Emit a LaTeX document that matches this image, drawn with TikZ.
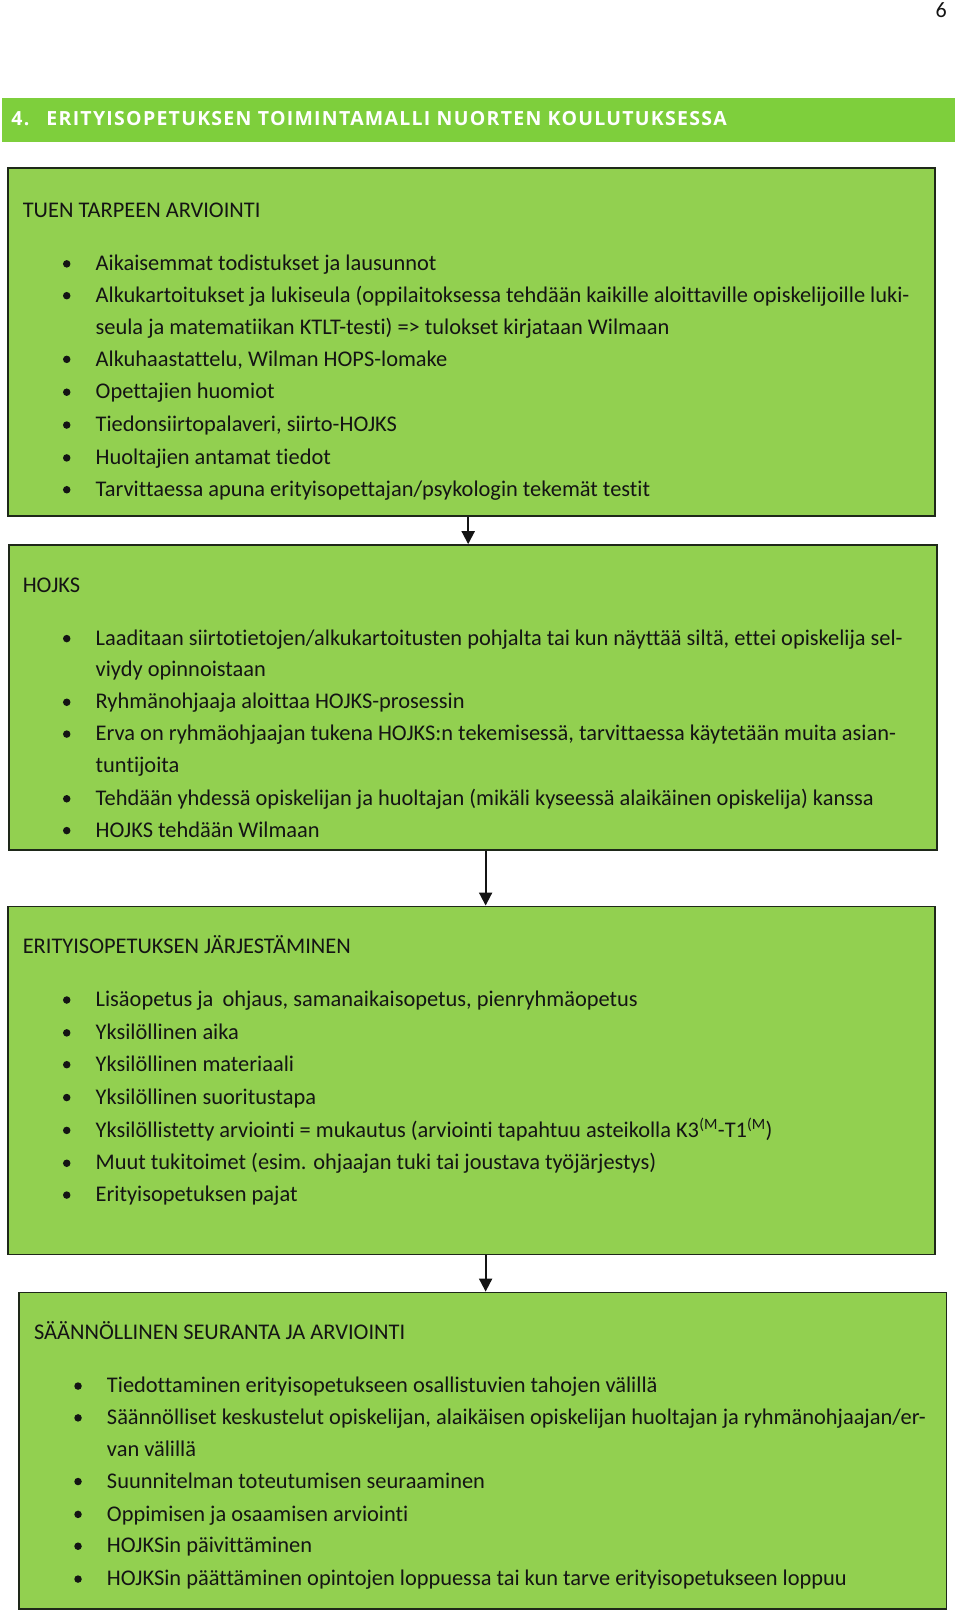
\documentclass[tikz,border=0pt]{standalone}
\usepackage{fontspec}
\setmainfont{Carlito}[Ligatures=NoCommon]
\newfontfamily\headfont{Open Sans}[LetterSpace=6.5]
\usetikzlibrary{arrows.meta}
\definecolor{boxgreen}{RGB}{146,208,80}
\definecolor{bargreen}{RGB}{126,207,60}
\definecolor{edge}{RGB}{30,40,25}
\definecolor{ink}{RGB}{20,20,20}
\def\sc{1.0267}
\tikzset{
  box/.style={draw=edge, line width=1.7pt, fill=boxgreen, inner sep=0pt, anchor=north west},
  txt/.style={anchor=base west, inner sep=0pt, text=ink, font=\fontsize{22.4}{26}\selectfont},
  dot/.style={circle, fill=ink, inner sep=0pt, minimum size=7.5pt},
  arr/.style={draw=ink, line width=2pt, -{Triangle[width=13pt,length=13pt]}},
}
\newcommand\bitem[4]{\node[dot] (#1d) at (#2,#3) {}; \node[txt] (#1) at (#2+28,#3+6.5) {#4};}
\newcommand\citem[4]{\node[txt] (#1) at (#2+28,#3+6.5) {#4};}
\begin{document}
\begin{tikzpicture}[x=1.0267pt,y=-1.0267pt]
\useasboundingbox (0,0) rectangle (935.03,1569.11);
\node[txt, font=\fontsize{22}{26}\selectfont] (pnum) at (911,17) {6};
\node[anchor=north west, fill=bargreen, minimum width=928*\sc, minimum height=43*\sc, inner sep=0pt] (bar) at (2,95) {};
\node[anchor=base west, inner sep=0pt, text=white, font=\fontsize{19.5}{24}\headfont\bfseries] (htxt) at (11,122) {4.\hspace{17pt}ERITYISOPETUKSEN TOIMINTAMALLI NUORTEN KOULUTUKSESSA};
% box 1
\node[box, minimum width=903*\sc, minimum height=339*\sc] (b1) at (7,163) {};
\node[txt] (t1) at (22,212) {TUEN TARPEEN ARVIOINTI};
\bitem{a1}{65}{257}{Aikaisemmat todistukset ja lausunnot}
\bitem{a2}{65}{288}{Alkukartoitukset ja lukiseula (oppilaitoksessa tehdään kaikille aloittaville opiskelijoille luki-}
\citem{a2c}{65}{319}{seula ja matematiikan KTLT-testi) => tulokset kirjataan Wilmaan}
\bitem{a3}{65}{350}{Alkuhaastattelu, Wilman HOPS-lomake}
\bitem{a4}{65}{382}{Opettajien huomiot}
\bitem{a5}{65}{414}{Tiedonsiirtopalaveri, siirto-HOJKS}
\bitem{a6}{65}{446}{Huoltajien antamat tiedot}
\bitem{a7}{65}{477}{Tarvittaessa apuna erityisopettajan/psykologin tekemät testit}
% box 2
\node[box, minimum width=904*\sc, minimum height=297*\sc] (b2) at (8,530) {};
\node[txt] (t2) at (22,577) {HOJKS};
\bitem{h1}{65}{622}{Laaditaan siirtotietojen/alkukartoitusten pohjalta tai kun näyttää siltä, ettei opiskelija sel-}
\citem{h1c}{65}{652}{viydy opinnoistaan}
\bitem{h2}{65}{684}{Ryhmänohjaaja aloittaa HOJKS-prosessin}
\bitem{h3}{65}{715}{Erva on ryhmäohjaajan tukena HOJKS:n tekemisessä, tarvittaessa käytetään muita asian-}
\citem{h3c}{65}{746}{tuntijoita}
\bitem{h4}{65}{778}{Tehdään yhdessä opiskelijan ja huoltajan (mikäli kyseessä alaikäinen opiskelija) kanssa}
\bitem{h5}{65}{809}{HOJKS tehdään Wilmaan}
% box 3
\node[box, minimum width=903*\sc, minimum height=339*\sc] (b3) at (7,882) {};
\node[txt] (t3) at (22,929) {ERITYISOPETUKSEN JÄRJESTÄMINEN};
\bitem{e1}{65}{974}{Lisäopetus ja\hspace{4pt} ohjaus, samanaikaisopetus, pienryhmäopetus}
\bitem{e2}{65}{1006}{Yksilöllinen aika}
\bitem{e3}{65}{1037}{Yksilöllinen materiaali}
\bitem{e4}{65}{1069}{Yksilöllinen suoritustapa}
\bitem{e5}{65}{1101}{Yksilöllistetty arviointi = mukautus (arviointi tapahtuu asteikolla K3\textsuperscript{(M}-T1\textsuperscript{(M})}
\bitem{e6}{65}{1133}{Muut tukitoimet (esim. ohjaajan tuki tai joustava työjärjestys)}
\bitem{e7}{65}{1164}{Erityisopetuksen pajat}
% box 4
\node[box, minimum width=903*\sc, minimum height=308*\sc] (b4) at (18,1258) {};
\node[txt] (t4) at (33,1305) {SÄÄNNÖLLINEN SEURANTA JA ARVIOINTI};
\bitem{s1}{76}{1350}{Tiedottaminen erityisopetukseen osallistuvien tahojen välillä}
\bitem{s2}{76}{1381}{Säännölliset keskustelut opiskelijan, alaikäisen opiskelijan huoltajan ja ryhmänohjaajan/er-}
\citem{s2c}{76}{1412}{van välillä}
\bitem{s3}{76}{1443}{Suunnitelman toteutumisen seuraaminen}
\bitem{s4}{76}{1475}{Oppimisen ja osaamisen arviointi}
\bitem{s5}{76}{1506}{HOJKSin päivittäminen}
\bitem{s6}{76}{1538}{HOJKSin päättäminen opintojen loppuessa tai kun tarve erityisopetukseen loppuu}
% arrows
\coordinate (x1) at (456,0);
\coordinate (x2) at (473,0);
\draw[arr] (x1 |- b1.south) -- (x1 |- b2.north);
\draw[arr] (x2 |- b2.south) -- (x2 |- b3.north);
\draw[arr] (x2 |- b3.south) -- (x2 |- b4.north);
\end{tikzpicture}
\end{document}
